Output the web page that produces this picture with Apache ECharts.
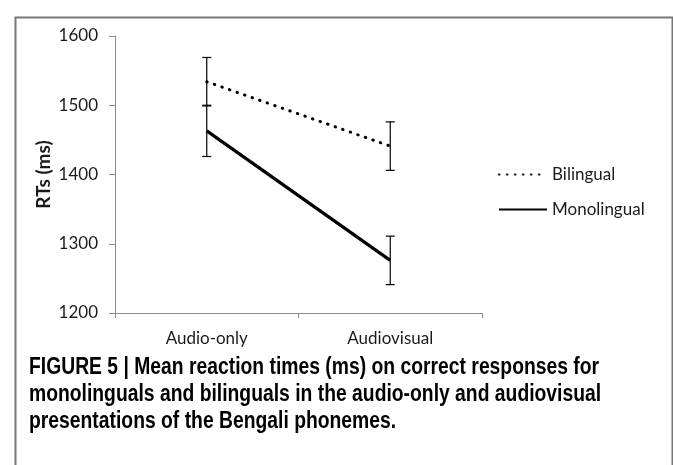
<!DOCTYPE html>
<html>
<head>
<meta charset="utf-8">
<script src="https://cdn.jsdelivr.net/npm/echarts@6/dist/echarts.min.js"></script>
<style>
html,body{margin:0;padding:0;background:#fff;}
#chart{width:673px;height:465px;}
</style>
</head>
<body>
<div id="chart"></div>
<script>
const categories = ['Audio-only', 'Audiovisual'];
const bilingual = [1534, 1441];
const bilingualErr = [35, 35];
const monolingual = [1463, 1276];
const monolingualErr = [37, 35];
const yTicks = [1200, 1300, 1400, 1500, 1600];
const captionLines = [
  'FIGURE 5 | Mean reaction times (ms) on correct responses for',
  'monolinguals and bilinguals in the audio-only and audiovisual',
  'presentations of the Bengali phonemes.'
];

const FONT = 'Lato, "Open Sans", sans-serif';

function errData(vals, errs) {
  return vals.map((v, i) => [i, v - errs[i], v + errs[i]]);
}
function errRender(params, api) {
  const x = api.value(0);
  const lo = api.coord([x, api.value(1)]);
  const hi = api.coord([x, api.value(2)]);
  const w = 4.5;
  const st = { stroke: '#000', lineWidth: 1.2 };
  return {
    type: 'group',
    children: [
      { type: 'line', shape: { x1: hi[0], y1: hi[1], x2: lo[0], y2: lo[1] }, style: st },
      { type: 'line', shape: { x1: hi[0] - w, y1: hi[1], x2: hi[0] + w, y2: hi[1] }, style: st },
      { type: 'line', shape: { x1: lo[0] - w, y1: lo[1], x2: lo[0] + w, y2: lo[1] }, style: st }
    ]
  };
}

const chart = echarts.init(document.getElementById('chart'), null, { renderer: 'canvas' });
const option = {
  backgroundColor: '#fff',
  animation: false,
  grid: { left: 115, top: 36, width: 367, height: 277 },
  legend: {
    orient: 'vertical',
    left: 493,
    top: 161,
    itemWidth: 48,
    itemHeight: 14,
    itemGap: 18,
    itemStyle: { opacity: 0 },
    textStyle: { fontFamily: FONT, fontSize: 17, color: '#1a1a1a' },
    data: ['Bilingual', 'Monolingual']
  },
  xAxis: {
    type: 'category',
    data: categories,
    boundaryGap: true,
    axisLine: { lineStyle: { color: '#8c8c8c', width: 1 } },
    axisTick: { show: true, length: 5, lineStyle: { color: '#8c8c8c' } },
    axisLabel: { fontFamily: FONT, fontSize: 17, color: '#1a1a1a', margin: 17 }
  },
  yAxis: {
    type: 'value',
    min: yTicks[0],
    max: yTicks[yTicks.length - 1],
    interval: 100,
    name: 'RTs (ms)',
    nameLocation: 'middle',
    nameRotate: 90,
    nameGap: 62,
    nameMoveOverlap: false,
    nameTextStyle: { fontFamily: FONT, fontSize: 19, fontWeight: 'bold', color: '#1a1a1a' },
    axisLine: { show: true, lineStyle: { color: '#8c8c8c', width: 1 } },
    axisTick: { show: true, length: 6, lineStyle: { color: '#8c8c8c' } },
    splitLine: { show: false },
    axisLabel: { fontFamily: FONT, fontSize: 17, color: '#1a1a1a', margin: 17, formatter: v => String(v) }
  },
  series: [
    {
      name: 'Bilingual',
      type: 'line',
      data: bilingual,
      symbol: 'none',
      lineStyle: { color: '#000', width: 3, type: [0.5, 7.5], cap: 'round' },
      itemStyle: { color: '#000' },
      z: 3
    },
    {
      name: 'Monolingual',
      type: 'line',
      data: monolingual,
      symbol: 'none',
      lineStyle: { color: '#000', width: 3.2 },
      itemStyle: { color: '#000' },
      z: 3
    },
    {
      type: 'custom',
      data: errData(bilingual, bilingualErr),
      renderItem: errRender,
      silent: true,
      z: 4
    },
    {
      type: 'custom',
      data: errData(monolingual, monolingualErr),
      renderItem: errRender,
      silent: true,
      z: 4
    }
  ],
  graphic: [
    {
      type: 'rect',
      left: 13, top: 15,
      shape: { width: 657, height: 470 },
      style: { fill: null, stroke: '#777', lineWidth: 2 },
      silent: true
    }
  ].concat(captionLines.map((t, i) => ({
    type: 'text',
    x: 29,
    y: 368 + i * 27,
    scaleX: 0.84,
    style: {
      text: t,
      x: 0, y: 0,
      align: 'left',
      verticalAlign: 'middle',
      font: 'bold 23px "Liberation Sans", Arial, sans-serif',
      fill: '#000'
    }
  })))
};
chart.setOption(option);
</script>
</body>
</html>
